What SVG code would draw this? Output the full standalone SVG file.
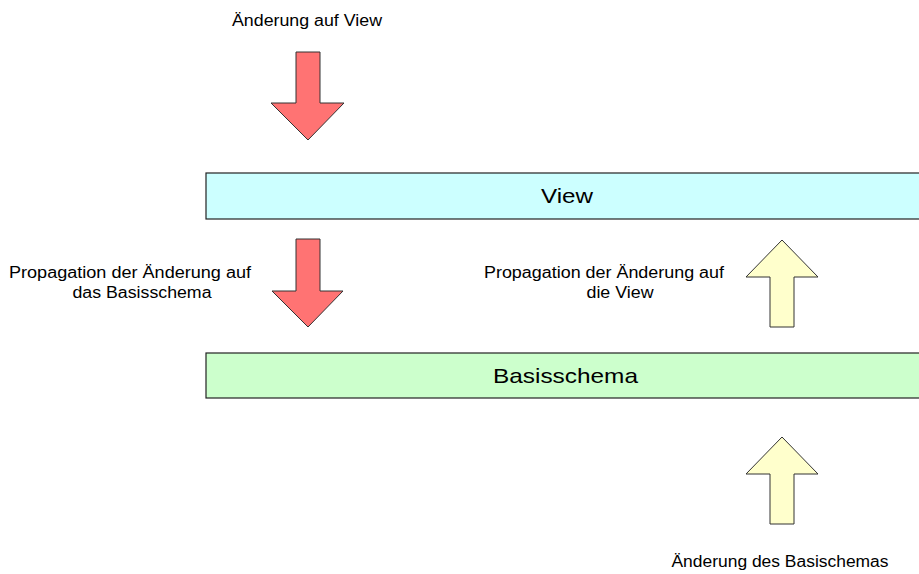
<svg xmlns="http://www.w3.org/2000/svg" width="919" height="574" viewBox="0 0 919 574">
  <style>
    .lbl { font-family: "Liberation Sans", Arial, sans-serif; font-size: 16px; fill: #000; }
    .big { font-family: "Liberation Sans", Arial, sans-serif; font-size: 21px; fill: #000; }
    .layer { stroke: #222; stroke-width: 1.2; }
    .red { fill: #FF7373; stroke: #333; stroke-width: 1; }
    .yel { fill: #FFFFCC; stroke: #333; stroke-width: 1; }
  </style>
  <rect width="919" height="574" fill="#fff"/>

  <g id="view">
    <rect class="layer" x="206" y="173" width="740" height="46" fill="#CCFFFF"/>
    <text class="big" x="567" y="203" text-anchor="middle" textLength="52" lengthAdjust="spacingAndGlyphs">View</text>
  </g>

  <g id="basisschema">
    <rect class="layer" x="206" y="353" width="740" height="45" fill="#CCFFCC"/>
    <text class="big" x="565.5" y="383" text-anchor="middle" textLength="145" lengthAdjust="spacingAndGlyphs">Basisschema</text>
  </g>

  <g id="connectors">
    <!-- change applied to the view -->
    <path class="red" d="M296,52 H320 V103 H344 L308,140 L271,103 H296 Z"/>
    <!-- propagation down to the base schema -->
    <path class="red" d="M296,239 H320 V291 H343 L308,327 L272,291 H296 Z"/>
    <!-- propagation up to the view -->
    <path class="yel" d="M782,240 L818,277 H794 V327 H770 V277 H746 Z"/>
    <!-- change of the base schema -->
    <path class="yel" d="M782,437 L818,474 H794 V524 H770 V474 H746 Z"/>
  </g>

  <g id="labels">
    <text class="lbl" x="307" y="26" text-anchor="middle" textLength="150" lengthAdjust="spacingAndGlyphs">Änderung auf View</text>
    <text class="lbl" x="130" y="278" text-anchor="middle" textLength="242" lengthAdjust="spacingAndGlyphs">Propagation der Änderung auf</text>
    <text class="lbl" x="142" y="298" text-anchor="middle" textLength="139" lengthAdjust="spacingAndGlyphs">das Basisschema</text>
    <text class="lbl" x="604" y="278" text-anchor="middle" textLength="240" lengthAdjust="spacingAndGlyphs">Propagation der Änderung auf</text>
    <text class="lbl" x="620" y="298" text-anchor="middle" textLength="67" lengthAdjust="spacingAndGlyphs">die View</text>
    <text class="lbl" x="780" y="567" text-anchor="middle" textLength="217" lengthAdjust="spacingAndGlyphs">Änderung des Basischemas</text>
  </g>
</svg>
